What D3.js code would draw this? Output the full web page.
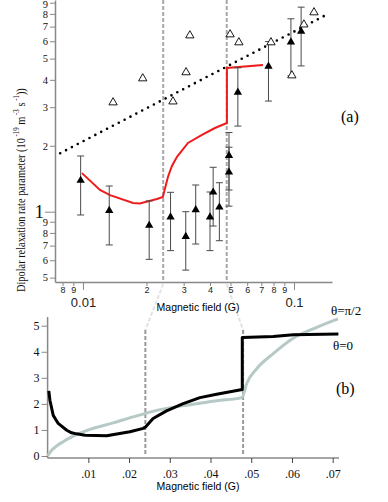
<!DOCTYPE html>
<html><head><meta charset="utf-8">
<script src="https://cdn.jsdelivr.net/npm/d3@7/dist/d3.min.js"></script>
<style>body{margin:0;background:#fff}svg{display:block}</style>
</head><body>
<script>
// ---------- data ----------
const thresholds = [0.024, 0.048];
// top panel (log-log)
const openX = [0.01389, 0.0192, 0.0267, 0.0308, 0.0321, 0.0498, 0.0548, 0.0778, 0.0977, 0.1114, 0.1244];
const openY = [3.17, 4.08, 3.2, 4.35, 6.41, 6.48, 5.96, 5.96, 4.21, 7.19, 8.17];
const fillX = [0.00975, 0.01332, 0.0206, 0.026, 0.0307, 0.03422, 0.0400, 0.0414, 0.0443, 0.0492, 0.0492, 0.0542, 0.0757, 0.0967, 0.1081];
const fillY = [1.396, 1.018, 0.87, 0.949, 0.774, 1.025, 0.949, 1.234, 1.054, 1.815, 1.523, 3.53, 4.63, 5.98, 6.7];
const fillLo = [0.966, 0.705, 0.606, 0.664, 0.541, 0.712, 0.664, 0.86, 0.737, 1.256, 1.06, 2.46, 3.2, 4.17, 4.63];
const fillHi = [1.796, 1.31, 1.12, 1.226, 1.0, 1.324, 1.23, 1.595, 1.356, 2.30, 1.97, 4.54, 5.98, 7.6, 8.59];
const redX = [0.00989, 0.01204, 0.01343, 0.01728, 0.0186, 0.02243, 0.0239, 0.02527, 0.0264, 0.0279, 0.03145, 0.03664, 0.0422, 0.0481, 0.0481, 0.0713];
const redY = [1.50, 1.256, 1.19, 1.096, 1.09, 1.143, 1.167, 1.44, 1.617, 1.78, 2.06, 2.24, 2.41, 2.54, 4.53, 4.67];
const dotX = [0.0078, 0.145];
const dotY = [1.85, 8.0];
const topYTicks = [0.5, 0.6, 0.7, 0.8, 0.9, 1, 2, 3, 4, 5, 6, 7, 8, 9];
const topYLabels = ["5", "6", "7", "8", "9", "1", "2", "3", "4", "5", "6", "7", "8", "9"];
const topXTicks = [0.008, 0.009, 0.01, 0.02, 0.03, 0.04, 0.05, 0.06, 0.07, 0.08, 0.09, 0.1];
const topXLabels = ["8", "9", "0.01", "2", "3", "4", "5", "6", "7", "8", "9", "0.1"];
// bottom panel (linear)
const blackX = [0.0003, 0.00057, 0.00138, 0.0026, 0.0047, 0.0059, 0.0071, 0.0092, 0.0145, 0.0202, 0.0235, 0.0241, 0.0259, 0.0292, 0.0333, 0.0374, 0.0415, 0.0478, 0.0478, 0.0554, 0.0603, 0.0714];
const blackY = [2.5, 2.14, 1.56, 1.25, 0.99, 0.89, 0.85, 0.80, 0.78, 0.93, 1.06, 1.12, 1.44, 1.73, 2.01, 2.24, 2.37, 2.55, 4.55, 4.59, 4.65, 4.68];
const grayX = [0, 0.001, 0.002, 0.0038, 0.0063, 0.0104, 0.0161, 0.021, 0.0276, 0.035, 0.0415, 0.0477, 0.0489, 0.0514, 0.0554, 0.0603, 0.0661, 0.0713];
const grayY = [0, 0.22, 0.36, 0.55, 0.76, 1.02, 1.27, 1.50, 1.78, 1.97, 2.12, 2.24, 2.79, 3.36, 3.93, 4.52, 4.94, 5.26];
const botYTicks = [0, 1, 2, 3, 4, 5];
const botXTicks = [0.01, 0.02, 0.03, 0.04, 0.05, 0.06, 0.07];
const botXLabels = [".01", ".02", ".03", ".04", ".05", ".06", ".07"];

// ---------- drawing ----------
const svg = d3.select("body").append("svg").attr("width", 388).attr("height", 502);
const serif = "'Liberation Serif','Times New Roman',serif";
const sans = "'Liberation Sans',Arial,sans-serif";
const axisCol = "#888";

const xTop = d3.scaleLog().domain([0.00737, 0.1514]).range([55, 332]);
const yTop = d3.scaleLog().domain([0.4775, 9.26]).range([282, 0]);
const xBot = d3.scaleLinear().domain([0, 0.07]).range([47.6, 332.7]);
const yBot = d3.scaleLinear().domain([0, 5]).range([456, 325.7]);

// dashed guide lines
const guides = svg.append("g");
thresholds.forEach(t => {
  guides.append("line").attr("x1", xTop(t)).attr("x2", xTop(t)).attr("y1", 0).attr("y2", 282)
    .attr("stroke", "#a8a8a8").attr("stroke-width", 2).attr("stroke-dasharray", "4,2");
  guides.append("line").attr("x1", xTop(t)).attr("x2", xBot(t)).attr("y1", 284).attr("y2", 330)
    .attr("stroke", "#e2e2e2").attr("stroke-width", 2).attr("stroke-dasharray", "4,2");
  guides.append("line").attr("x1", xBot(t)).attr("x2", xBot(t)).attr("y1", 330).attr("y2", 456)
    .attr("stroke", "#9a9a9a").attr("stroke-width", 2).attr("stroke-dasharray", "4,2");
});

// ---- top axes ----
const gyT = svg.append("g").attr("transform", "translate(55,0)")
  .call(d3.axisLeft(yTop).tickValues(topYTicks).tickFormat((d, i) => topYLabels[i]).tickSize(5).tickSizeOuter(0).tickPadding(2));
gyT.select(".domain").attr("stroke", axisCol).attr("stroke-width", 1.5);
gyT.selectAll(".tick line").attr("stroke", axisCol);
gyT.selectAll(".tick text").attr("font-family", serif).attr("font-size", 10.5).attr("fill", "#111");
gyT.selectAll(".tick").filter(d => d === 1).each(function () {
  d3.select(this).select("line").attr("x2", -10);
  d3.select(this).select("text").attr("font-size", 19).attr("x", -11);
});
gyT.selectAll(".tick").filter(d => d === 9).select("text").attr("y", 1);

const gxT = svg.append("g").attr("transform", "translate(0,282)")
  .call(d3.axisBottom(xTop).tickValues(topXTicks).tickFormat((d, i) => topXLabels[i]).tickSize(4).tickSizeOuter(0));
gxT.select(".domain").attr("stroke", axisCol).attr("stroke-width", 1.5);
gxT.selectAll(".tick line").attr("stroke", axisCol);
gxT.selectAll(".tick text").attr("font-family", sans).attr("font-size", 9).attr("fill", "#222").attr("y", 4.5);
gxT.selectAll(".tick").filter(d => d === 0.01 || d === 0.1).each(function () {
  d3.select(this).select("line").attr("y2", 8);
  d3.select(this).select("text").attr("font-size", 13).attr("y", 15.5);
});

// dotted power-law line
svg.append("path").datum(d3.range(dotX.length))
  .attr("d", d3.line().x(i => xTop(dotX[i])).y(i => yTop(dotY[i])))
  .attr("fill", "none").attr("stroke", "#000").attr("stroke-width", 2.6)
  .attr("stroke-linecap", "round").attr("stroke-dasharray", "0,6.6");

// red curve
svg.append("path").datum(d3.range(redX.length))
  .attr("d", d3.line().x(i => xTop(redX[i])).y(i => yTop(redY[i])).curve(d3.curveLinear))
  .attr("fill", "none").attr("stroke", "#ee1c1c").attr("stroke-width", 2);

// error bars
const eb = svg.append("g").attr("stroke", "#4a4a4a").attr("stroke-width", 1);
fillX.forEach((x, i) => {
  const px = xTop(x);
  eb.append("line").attr("x1", px).attr("x2", px).attr("y1", yTop(fillLo[i])).attr("y2", yTop(fillHi[i]));
  eb.append("line").attr("x1", px - 3.5).attr("x2", px + 3.5).attr("y1", yTop(fillLo[i])).attr("y2", yTop(fillLo[i]));
  eb.append("line").attr("x1", px - 3.5).attr("x2", px + 3.5).attr("y1", yTop(fillHi[i])).attr("y2", yTop(fillHi[i]));
});
const tri = d3.symbol().type(d3.symbolTriangle).size(30);
svg.append("g").selectAll("path").data(fillX).join("path")
  .attr("d", tri).attr("transform", (d, i) => `translate(${xTop(d)},${yTop(fillY[i]) + 0.5})`).attr("fill", "#000");
svg.append("g").selectAll("path").data(openX).join("path")
  .attr("d", tri).attr("transform", (d, i) => `translate(${xTop(d)},${yTop(openY[i]) + 0.5})`)
  .attr("fill", "#fff").attr("stroke", "#000").attr("stroke-width", 0.9);

svg.append("text").attr("x", 198).attr("y", 311).attr("text-anchor", "middle")
  .attr("font-family", sans).attr("font-size", 10.5).text("Magnetic field (G)");
svg.append("text").attr("x", 341).attr("y", 122).attr("font-family", serif).attr("font-size", 16).text("(a)");

// ---- bottom panel ----
const gyB = svg.append("g").attr("transform", "translate(47.6,0)")
  .call(d3.axisLeft(yBot).tickValues(botYTicks).tickFormat(d3.format("d")).tickSize(6).tickSizeOuter(0).tickPadding(2));
gyB.select(".domain").attr("d", "M0,317V458").attr("stroke", axisCol).attr("stroke-width", 1.5);
gyB.selectAll(".tick line").attr("stroke", axisCol);
gyB.selectAll(".tick text").attr("font-family", serif).attr("font-size", 12).attr("fill", "#111");

const gxB = svg.append("g").attr("transform", "translate(0,458)")
  .call(d3.axisBottom(xBot).tickValues(botXTicks).tickFormat((d, i) => botXLabels[i]).tickSize(5).tickSizeOuter(0).tickPadding(6));
gxB.select(".domain").attr("d", "M47.6,0H339").attr("stroke", axisCol).attr("stroke-width", 1.5);
gxB.selectAll(".tick line").attr("stroke", "#444");
gxB.selectAll(".tick text").attr("font-family", serif).attr("font-size", 12).attr("fill", "#111");

svg.append("path").datum(d3.range(grayX.length))
  .attr("d", d3.line().x(i => xBot(grayX[i])).y(i => yBot(grayY[i])).curve(d3.curveMonotoneX))
  .attr("fill", "none").attr("stroke", "#b6c9c7").attr("stroke-width", 3);
svg.append("path").datum(d3.range(blackX.length))
  .attr("d", d3.line().x(i => xBot(blackX[i])).y(i => yBot(blackY[i])).curve(d3.curveLinear))
  .attr("fill", "none").attr("stroke", "#000").attr("stroke-width", 3).attr("stroke-linejoin", "round");

svg.append("text").attr("x", 198).attr("y", 490).attr("text-anchor", "middle")
  .attr("font-family", sans).attr("font-size", 10.5).text("Magnetic field (G)");
svg.append("text").attr("x", 336).attr("y", 394).attr("font-family", serif).attr("font-size", 16).text("(b)");
svg.append("text").attr("x", 331).attr("y", 315).attr("font-family", serif).attr("font-size", 13).text("θ=π/2");
svg.append("text").attr("x", 333).attr("y", 350).attr("font-family", serif).attr("font-size", 13).text("θ=0");

// y title (condensed to the reference's extent)
const ytG = svg.append("g").attr("transform", "translate(25,292) rotate(-90)");
const yt = ytG.append("text").attr("font-family", serif).attr("font-size", 13.5).attr("fill", "#111");
yt.append("tspan").text("Dipolar relaxation rate parameter (10");
yt.append("tspan").attr("dy", -6).attr("font-size", 9).text(" -19");
yt.append("tspan").attr("dy", 6).text(" m");
yt.append("tspan").attr("dy", -6).attr("font-size", 9).text(" -3");
yt.append("tspan").attr("dy", 6).text(" s");
yt.append("tspan").attr("dy", -6).attr("font-size", 9).text(" -1");
yt.append("tspan").attr("dy", 6).text("))");
const w = yt.node().getComputedTextLength();
yt.attr("transform", `scale(${204 / w},1)`);
</script>
</body></html>
